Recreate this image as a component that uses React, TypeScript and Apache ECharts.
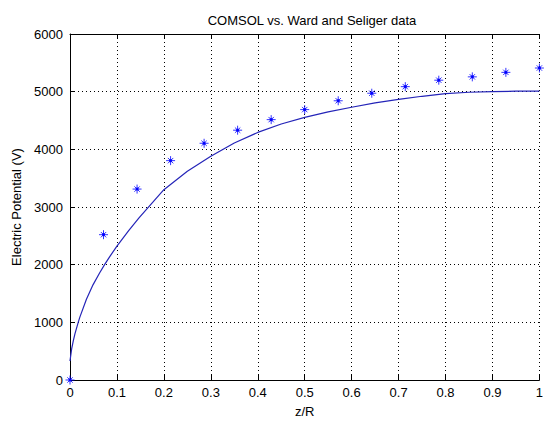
import React, { useEffect, useRef } from "react";
import * as echarts from "echarts";

const titleText = "COMSOL vs. Ward and Seliger data";
const xName = "z/R";
const yName = "Electric Potential (V)";

// COMSOL curve (z/R, V)
const curveZ = [0, 0.0035, 0.007, 0.0105, 0.0175, 0.021, 0.035, 0.049, 0.063, 0.074, 0.084, 0.1, 0.125, 0.147, 0.2, 0.25, 0.3, 0.35, 0.4, 0.45, 0.5, 0.55, 0.6, 0.65, 0.7, 0.75, 0.8, 0.85, 0.9, 0.95, 1.0];
const curveV = [330, 540, 680, 800, 1000, 1090, 1400, 1650, 1855, 2005, 2132, 2320, 2590, 2810, 3300, 3620, 3879, 4110, 4293, 4440, 4553, 4650, 4730, 4805, 4865, 4920, 4965, 4990, 5002, 5008, 5010];

// Ward and Seliger data
const dataZ = [0, 0.0714, 0.1429, 0.2143, 0.2857, 0.3571, 0.4286, 0.5, 0.5714, 0.6429, 0.7143, 0.7857, 0.8571, 0.9286, 1.0];
const dataV = [0, 2520, 3311, 3804, 4105, 4332, 4515, 4689, 4842, 4973, 5087, 5199, 5257, 5335, 5410];

const FONT = "Liberation Sans, Arial, Helvetica, sans-serif";

export default function App() {
  const ref = useRef<HTMLDivElement>(null);
  useEffect(() => {
    if (!ref.current) return;
    const chart = echarts.init(ref.current, null, { renderer: "svg" });
    const asterisk =
      "path://M0,-1L0,1M-1,0L1,0M-0.6,-0.6L0.6,0.6M-0.6,0.6L0.6,-0.6M-0.22,-0.22L0.22,-0.22L0.22,0.22L-0.22,0.22Z";
    chart.setOption({
      animation: false,
      backgroundColor: "#ffffff",
      title: {
        text: titleText,
        left: 307,
        top: 9,
        textAlign: "center",
        textStyle: { fontFamily: FONT, fontSize: 13, fontWeight: "normal", color: "#000" },
      },
      grid: { left: 70, right: 1, top: 34, bottom: 37, containLabel: false },
      xAxis: [
        {
          type: "value",
          min: 0,
          max: 1,
          interval: 0.1,
          name: xName,
          nameLocation: "middle",
          nameGap: 25,
          nameTextStyle: { fontFamily: FONT, fontSize: 13, color: "#000" },
          axisLine: { show: true, lineStyle: { color: "#000", width: 1 } },
          axisTick: { show: true, inside: true, length: 5, lineStyle: { color: "#000" } },
          axisLabel: { fontFamily: FONT, fontSize: 13, color: "#000", margin: 6, showMaxLabel: true },
          splitLine: { show: true, lineStyle: { color: "#000", type: [1, 3], width: 1 } },
        },
        {
          type: "value",
          position: "top",
          min: 0,
          max: 1,
          interval: 0.1,
          axisLine: { show: true, lineStyle: { color: "#000", width: 1 } },
          axisTick: { show: true, inside: true, length: 5, lineStyle: { color: "#000" } },
          axisLabel: { show: false },
          splitLine: { show: false },
        },
      ],
      yAxis: {
        type: "value",
        min: 0,
        max: 6000,
        interval: 1000,
        name: yName,
        nameLocation: "middle",
        nameGap: 40,
        nameTextStyle: { fontFamily: FONT, fontSize: 13, color: "#000" },
        axisLine: { show: true, lineStyle: { color: "#000", width: 1 } },
        axisTick: { show: true, inside: true, length: 5, lineStyle: { color: "#000" } },
        axisLabel: { fontFamily: FONT, fontSize: 13, color: "#000", margin: 7, formatter: (v: number) => String(v) },
        splitLine: { show: true, lineStyle: { color: "#000", type: [1, 3], width: 1 } },
      },
      series: [
        {
          name: "COMSOL",
          type: "line",
          data: curveZ.map((z, i) => [z, curveV[i]]),
          showSymbol: false,
          smooth: false,
          clip: false,
          lineStyle: { color: "#2424b8", width: 1.2 },
        },
        {
          name: "Ward and Seliger",
          type: "scatter",
          data: dataZ.map((z, i) => [z, dataV[i]]),
          symbol: asterisk,
          symbolSize: 9,
          clip: false,
          itemStyle: { color: "#0000ff", borderColor: "#0000ff", borderWidth: 1 },
        },
      ],
    });
    return () => chart.dispose();
  }, []);
  return (
    <div
      ref={ref}
      style={{ position: "fixed", left: 0, top: 0, width: 546, height: 423 }}
    />
  );
}
